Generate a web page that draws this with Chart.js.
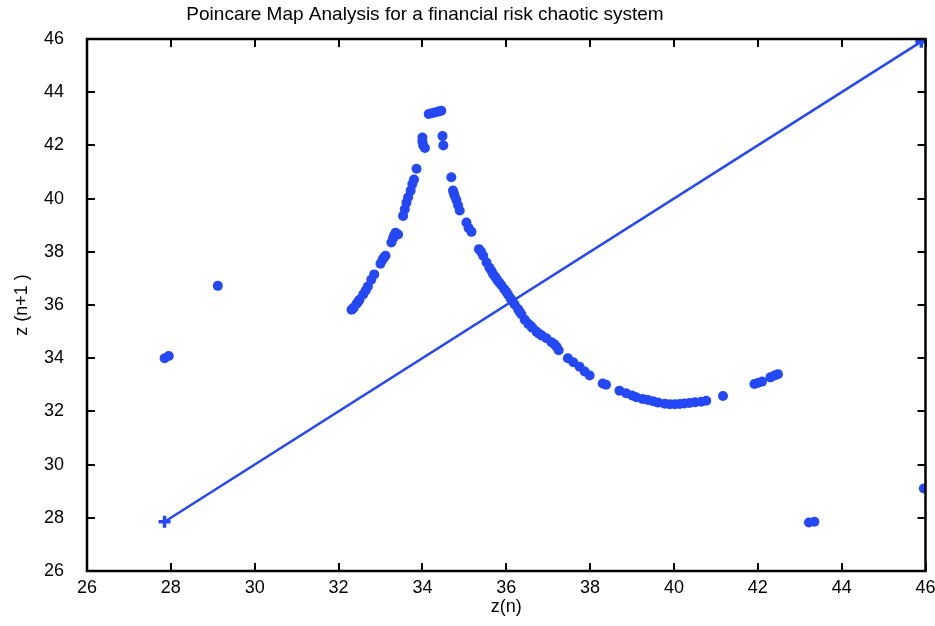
<!DOCTYPE html>
<html>
<head>
<meta charset="utf-8">
<script src="https://cdn.jsdelivr.net/npm/chart.js@4"></script>
<style>
  html, body { margin: 0; padding: 0; background: #fff; }
  #wrap { width: 935px; height: 626px; }
</style>
</head>
<body>
<div id="wrap"><canvas id="poincare"></canvas></div>
<script>
// Poincare section z(n) -> z(n+1)
const zn = [
  27.85, 27.95, 29.12, 43.22, 43.35, 45.96,
  32.31, 32.34, 32.36, 32.43, 32.47, 32.5, 32.59, 32.65, 32.7, 32.78, 32.85, 33.0, 33.05, 33.08, 33.12,
  33.26, 33.3, 33.32, 33.36, 33.42,
  33.54, 33.58, 33.62, 33.66, 33.72, 33.76, 33.8, 33.86,
  34.0, 34.02, 34.06, 34.0, 34.15, 34.22, 34.3, 34.38, 34.45, 34.48, 34.5,
  34.69, 34.73, 34.75, 34.77, 34.81, 34.85, 34.89, 35.05, 35.1, 35.17, 35.35, 35.4, 35.45, 35.53, 35.6,
  35.65, 35.69, 35.74, 35.78, 35.83, 35.88, 35.95, 36.0, 36.04, 36.1, 36.15, 36.2, 36.28, 36.32, 36.36,
  36.44, 36.52, 36.58, 36.62, 36.72, 36.78, 36.85,
  36.96, 37.08, 37.15, 37.2, 37.25, 37.47, 37.6, 37.75, 37.87, 37.99, 38.3, 38.38, 38.7, 38.86, 39.0, 39.1,
  39.25, 39.38, 39.5, 39.62, 39.78, 39.9, 40.02, 40.14, 40.25, 40.37, 40.5, 40.65, 40.77, 41.17,
  41.92, 42.0, 42.1, 42.3, 42.4, 42.48
];
const zn1 = [
  34.0, 34.08, 36.72, 27.82, 27.85, 29.1,
  35.82, 35.86, 35.9, 36.05, 36.12, 36.2, 36.4, 36.55, 36.7, 36.95, 37.15, 37.55, 37.7, 37.78, 37.85,
  38.35, 38.5, 38.6, 38.72, 38.65,
  39.35, 39.6, 39.85, 40.05, 40.3, 40.55, 40.72, 41.12,
  42.3, 42.0, 41.9, 42.15, 43.18, 43.21, 43.24, 43.27, 43.3, 42.35, 42.0,
  40.8, 40.3, 40.2, 40.1, 39.95, 39.75, 39.55, 39.1, 38.9, 38.75, 38.1, 38.0, 37.85, 37.6, 37.4,
  37.28, 37.15, 37.05, 36.95, 36.85, 36.75, 36.6, 36.5, 36.4, 36.25, 36.15, 36.02, 35.85, 35.75, 35.65,
  35.45, 35.3, 35.22, 35.15, 35.0, 34.92, 34.85,
  34.75, 34.6, 34.52, 34.43, 34.3, 34.0, 33.85, 33.68, 33.5, 33.35, 33.05, 33.0, 32.78, 32.68, 32.6, 32.53,
  32.47, 32.43, 32.38, 32.33, 32.29, 32.27, 32.27, 32.28, 32.3, 32.32, 32.34, 32.36, 32.4, 32.58,
  33.03, 33.07, 33.12, 33.28, 33.35, 33.4
];
// bisector z(n+1) = z(n)
const diagX = [27.85, 45.9];
const diagY = [27.85, 45.9];
const axisMin = 26, axisMax = 46, axisStep = 2;

const blue = 'rgb(36,72,245)';
const fontFam = "'Liberation Sans', Arial, sans-serif";

const pts = zn.map((x, i) => ({ x, y: zn1[i] }));
const diag = diagX.map((x, i) => ({ x, y: diagY[i] }));

// frame + inward ticks on all four sides
const frameTicks = {
  id: 'frameTicks',
  afterDatasetsDraw(chart) {
    const { ctx, chartArea: a, scales: { x, y } } = chart;
    const len = 8;
    ctx.save();
    ctx.strokeStyle = '#000';
    ctx.lineWidth = 2;
    ctx.beginPath();
    x.ticks.forEach(t => {
      const px = Math.round(x.getPixelForValue(t.value));
      ctx.moveTo(px, a.bottom); ctx.lineTo(px, a.bottom - len);
      ctx.moveTo(px, a.top); ctx.lineTo(px, a.top + len);
    });
    y.ticks.forEach(t => {
      const py = Math.round(y.getPixelForValue(t.value));
      ctx.moveTo(a.left, py); ctx.lineTo(a.left + len, py);
      ctx.moveTo(a.right, py); ctx.lineTo(a.right - len, py);
    });
    ctx.stroke();
    ctx.lineWidth = 2.5;
    ctx.strokeRect(a.left, a.top, a.right - a.left, a.bottom - a.top);
    ctx.restore();
  }
};

const topTitle = {
  id: 'topTitle',
  afterDraw(chart) {
    const ctx = chart.ctx;
    ctx.save();
    ctx.fillStyle = '#000';
    ctx.font = "19px 'Liberation Sans', Arial, sans-serif";
    ctx.textAlign = 'center';
    ctx.textBaseline = 'middle';
    ctx.fillText('Poincare Map Analysis for a financial risk chaotic system', 425, 15);
    ctx.restore();
  }
};

new Chart(document.getElementById('poincare'), {
  type: 'scatter',
  data: {
    datasets: [
      {
        data: diag,
        showLine: true,
        borderColor: blue,
        borderWidth: 2.5,
        pointStyle: 'cross',
        pointRadius: 6,
        pointBorderWidth: 3.5,
        pointBorderColor: blue,
        backgroundColor: blue
      },
      {
        data: pts,
        pointRadius: 5,
        pointBorderWidth: 0,
        backgroundColor: blue
      }
    ]
  },
  options: {
    responsive: true,
    maintainAspectRatio: false,
    animation: false,
    layout: { padding: { top: 39, right: 9, left: 0, bottom: 0 } },
    plugins: { legend: { display: false }, tooltip: { enabled: false } },
    scales: {
      x: {
        type: 'linear',
        min: axisMin, max: axisMax,
        afterFit(s) { s.height = 55; s.paddingLeft = 0; s.paddingRight = 0; },
        grid: { display: false, drawTicks: false },
        border: { display: false },
        ticks: { stepSize: axisStep, padding: 6, color: '#000', font: { family: fontFam, size: 18 } },
        title: { display: true, text: 'z(n)', color: '#000', padding: { top: 0, bottom: 8 }, font: { family: fontFam, size: 18 } }
      },
      y: {
        type: 'linear',
        min: axisMin, max: axisMax,
        afterFit(s) { s.width = 87; s.paddingTop = 0; s.paddingBottom = 0; },
        grid: { display: false, drawTicks: false },
        border: { display: false },
        ticks: { stepSize: axisStep, padding: 23, color: '#000', font: { family: fontFam, size: 18 } },
        title: { display: true, text: 'z (n+1 )', color: '#000', padding: { top: 11, bottom: 0 }, font: { family: fontFam, size: 18 } }
      }
    }
  },
  plugins: [frameTicks, topTitle]
});
</script>
</body>
</html>
